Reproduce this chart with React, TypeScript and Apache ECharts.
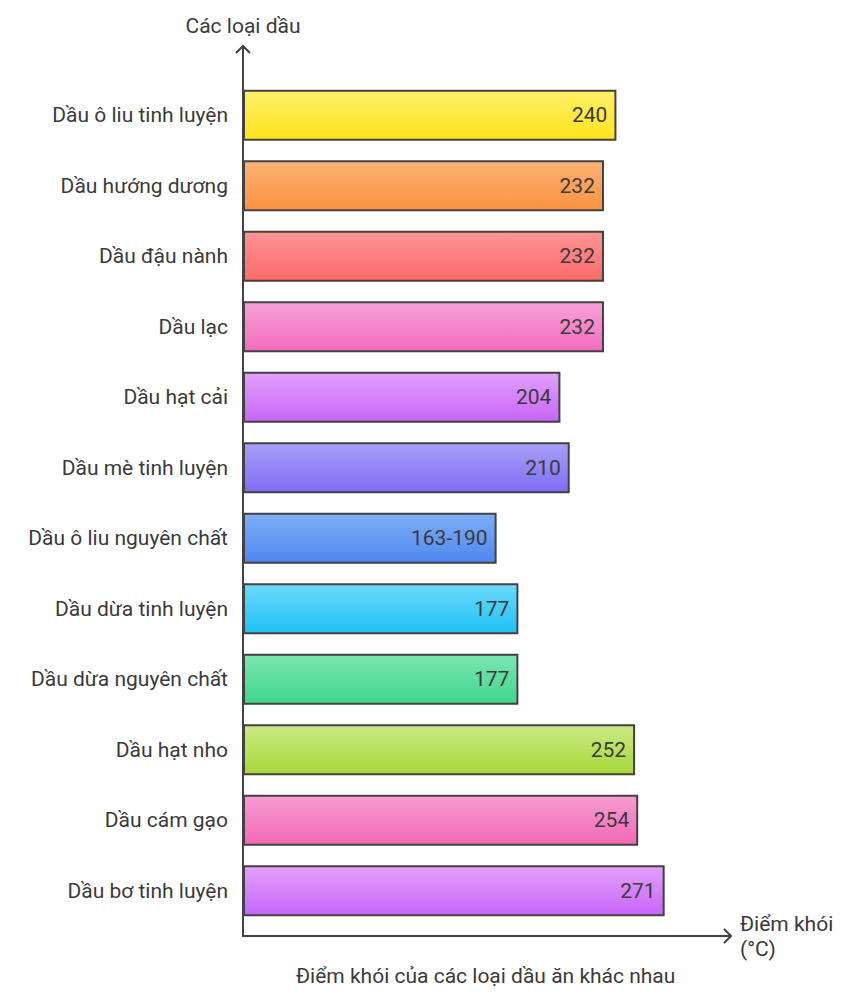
import React, { useEffect, useRef } from "react";
import * as echarts from "echarts";

const categories = [
  "Dầu ô liu tinh luyện",
  "Dầu hướng dương",
  "Dầu đậu nành",
  "Dầu lạc",
  "Dầu hạt cải",
  "Dầu mè tinh luyện",
  "Dầu ô liu nguyên chất",
  "Dầu dừa tinh luyện",
  "Dầu dừa nguyên chất",
  "Dầu hạt nho",
  "Dầu cám gạo",
  "Dầu bơ tinh luyện",
];
const values = [240, 232, 232, 232, 204, 210, 163, 177, 177, 252, 254, 271];
const valueLabels = ["240", "232", "232", "232", "204", "210", "163-190", "177", "177", "252", "254", "271"];
const topColors = ["#fff06a", "#fcb274", "#ff9494", "#f7a2d8", "#e2a0fc", "#a6a0f8", "#7eaef8", "#6cdafc", "#7ce6b4", "#cceb86", "#f79cd2", "#e2a0fc"];
const bottomColors = ["#ffe41a", "#fb9240", "#fb6a6a", "#f46bbd", "#c865f8", "#7f6cf4", "#4f87ee", "#1ec0f4", "#3ed68a", "#a6d838", "#f468b6", "#c865f8"];

const xAxisName = "Điểm khói\n(°C)";
const yAxisName = "Các loại dầu";
const chartTitle = "Điểm khói của các loại dầu ăn khác nhau";

const FONT = "Roboto, 'Noto Sans', sans-serif";
const AXIS = "#424242";
const TEXT = "#3a3a3a";
const FS = 21;

export default function App() {
  const ref = useRef<HTMLDivElement>(null);
  useEffect(() => {
    document.body.style.margin = "0";
    const chart = echarts.init(ref.current!, undefined, { renderer: "svg" });
    chart.setOption({
      animation: false,
      textStyle: { fontFamily: FONT },
      title: {
        text: chartTitle,
        left: 291,
        top: 960,
        textStyle: { fontSize: FS, fontWeight: "normal", color: TEXT, fontFamily: FONT },
      },
      grid: { left: 243, right: 136, top: 80, bottom: 74, containLabel: false },
      xAxis: {
        type: "value",
        min: 0,
        max: 313,
        offset: 10,
        axisLine: { show: true, lineStyle: { color: AXIS, width: 2 } },
        axisTick: { show: false },
        axisLabel: { show: false },
        splitLine: { show: false },
        name: xAxisName,
        nameLocation: "end",
        nameGap: 10,
        nameTextStyle: { fontSize: FS, color: TEXT, align: "left", lineHeight: 25, fontFamily: FONT },
      },
      yAxis: {
        type: "category",
        inverse: true,
        data: categories,
        axisLine: { show: false },
        axisTick: { show: false },
        axisLabel: { fontSize: FS, color: TEXT, margin: 15, fontFamily: FONT },
        name: yAxisName,
        nameLocation: "start",
        nameGap: 44,
        nameTextStyle: { fontSize: FS, color: TEXT, align: "center", fontFamily: FONT },
      },
      graphic: [
        { type: "line", shape: { x1: 243, y1: 937, x2: 243, y2: 46 }, style: { stroke: AXIS, lineWidth: 2 }, z: 10 },
        { type: "polyline", shape: { points: [[236, 53], [243, 46], [250, 53]] }, style: { stroke: AXIS, lineWidth: 2, fill: "none" }, z: 10 },
        { type: "polyline", shape: { points: [[724, 929], [731, 936], [724, 943]] }, style: { stroke: AXIS, lineWidth: 2, fill: "none" }, z: 10 },
      ],
      series: [
        {
          type: "bar",
          barWidth: 51,
          data: values.map((v, i) => ({
            value: v,
            itemStyle: {
              color: new echarts.graphic.LinearGradient(0, 0, 0, 1, [
                { offset: 0, color: topColors[i] },
                { offset: 1, color: bottomColors[i] },
              ]),
              borderColor: AXIS,
              borderWidth: 2,
            },
          })),
          label: {
            show: true,
            position: "insideRight",
            distance: 9,
            fontSize: FS,
            color: TEXT,
            fontFamily: FONT,
            formatter: (p: any) => valueLabels[p.dataIndex],
          },
        },
      ],
    });
    return () => chart.dispose();
  }, []);
  return <div ref={ref} style={{ width: 866, height: 1000 }} />;
}
